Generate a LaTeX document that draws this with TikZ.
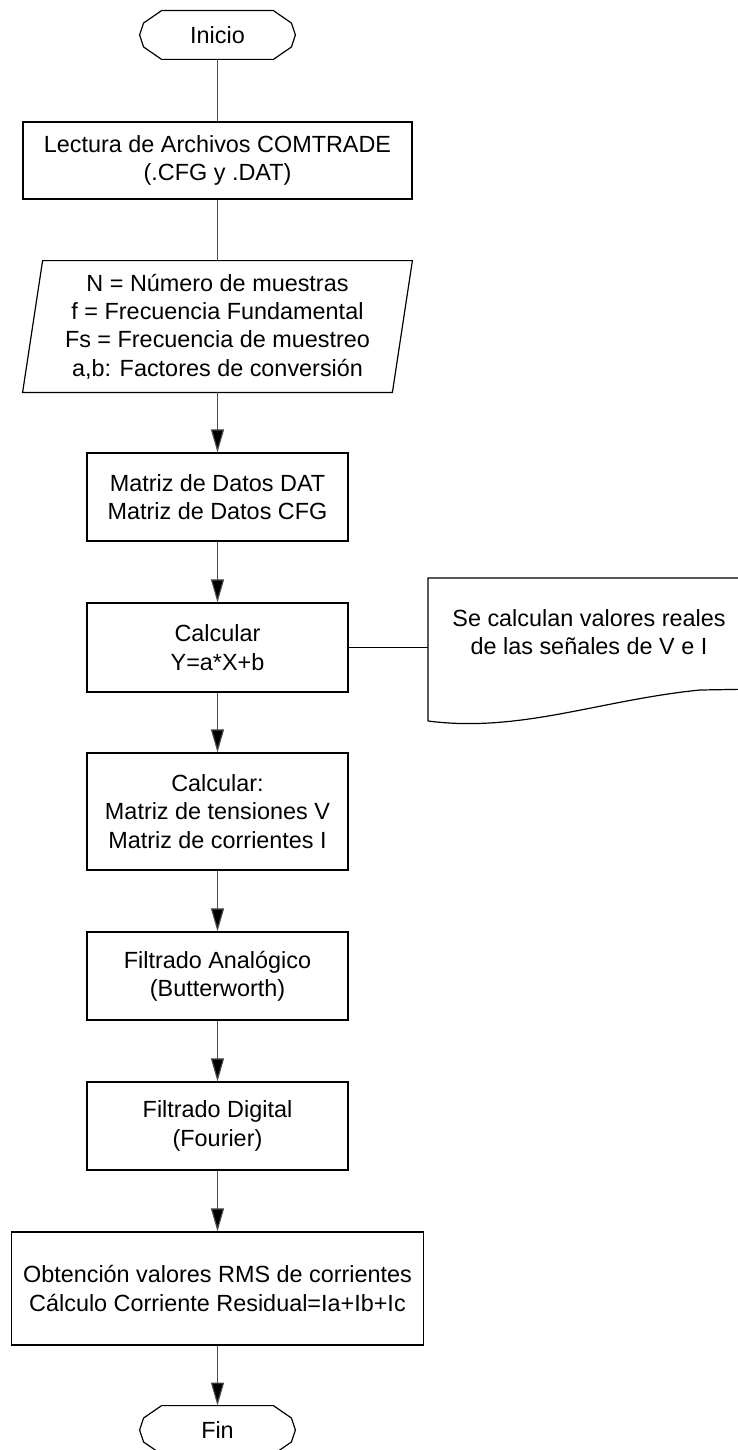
\documentclass[tikz,border=0pt]{standalone}
\usepackage{fontspec}
\setmainfont{Liberation Sans}
\usetikzlibrary{arrows.meta,calc}
\begin{document}
\begin{tikzpicture}[x=0.5pt,y=-0.5pt,
  font=\fontsize{11.7}{14.2}\selectfont,
  box/.style={draw=black,line width=0.6pt,align=center,inner sep=0pt,
              minimum width=130.5pt,minimum height=44pt},
  frame/.style={draw=black,line width=0.6pt},
  flow/.style={draw=black!70,line width=0.55pt},
  arr/.style={flow,-{Triangle[length=11.5pt,width=6.5pt,fill=black]}},
  term/.style={inner sep=0pt,minimum width=77.5pt,minimum height=24pt},
  ]
\useasboundingbox (0,0) rectangle (738,1450);

% terminals
\node[term] (start) at (217.5,35) {Inicio};
\node[term] (stop) at (217.5,1430) {Fin};
\foreach \n in {start,stop}{
  \draw[frame] ($(\n.north west)+(22,0)$) -- ($(\n.north east)+(-22,0)$)
    -- ($(\n.east)+(-4,-12)$) -- (\n.east) -- ($(\n.east)+(-4,12)$)
    -- ($(\n.south east)+(-22,0)$) -- ($(\n.south west)+(22,0)$)
    -- ($(\n.west)+(4,12)$) -- (\n.west) -- ($(\n.west)+(4,-12)$) -- cycle;
}

% process steps
\node[box,minimum width=194.5pt,minimum height=38.5pt] (read) at (217.5,160.5)
  {Lectura de Archivos COMTRADE\\(.CFG y .DAT)};

\node[inner sep=0pt,minimum width=194.5pt,minimum height=65.5pt,align=center]
  (data) at (217.5,326.5)
  {N = Número de muestras\\f = Frecuencia Fundamental\\Fs = Frecuencia de muestreo\\a,b: Factores de conversión};
\draw[frame] ($(data.north west)+(20,0)$) -- (data.north east)
  -- ($(data.south east)+(-20,0)$) -- (data.south west) -- cycle;

\node[box] (mat) at (217.5,497) {Matriz de Datos DAT\\Matriz de Datos CFG};
\node[box,minimum height=44.5pt] (calc) at (217.5,647.5) {Calcular\\Y=a*X+b};
\node[box,minimum height=58.5pt] (vi) at (217.5,811.5)
  {Calcular:\\Matriz de tensiones V\\Matriz de corrientes I};
\node[box] (ana) at (217.5,976) {Filtrado Analógico\\(Butterworth)};
\node[box] (dig) at (217.5,1126) {Filtrado Digital\\(Fourier)};
\node[box,minimum width=206pt,minimum height=56.5pt] (rms) at (217.5,1288.5)
  {Obtención valores RMS de corrientes\\Cálculo Corriente Residual=Ia+Ib+Ic};

% annotation
\node[align=center,inner sep=0pt] (note) at (589,632)
  {Se calculan valores reales\\de las señales de V e I};
\coordinate (noteL) at (428,647.5);
\draw[frame] (428,721) -- (428,578) -- (760,578) -- (760,689) -- (700,690)
  .. controls (600,700) and (520,733) .. (428,721);

% connectors
\draw[flow] (start) -- (read);
\draw[flow] (read) -- (data.north);
\draw[arr] (data.south) -- (mat);
\draw[arr] (mat) -- (calc);
\draw[arr] (calc) -- (vi);
\draw[arr] (vi) -- (ana);
\draw[arr] (ana) -- (dig);
\draw[arr] (dig) -- (rms);
\draw[arr] (rms) -- (stop);
\draw[flow,draw=black] (calc.east) -- (noteL);
\end{tikzpicture}
\end{document}
